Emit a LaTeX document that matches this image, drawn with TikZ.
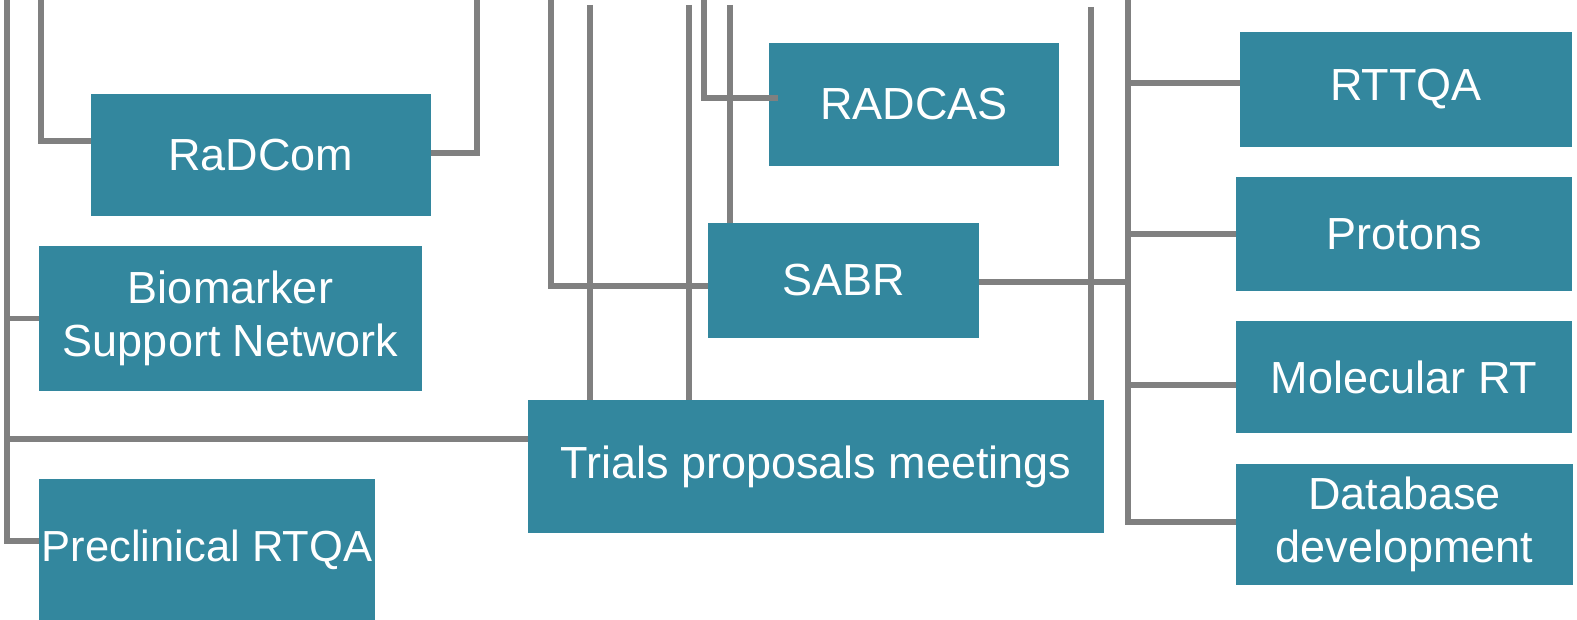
\documentclass[tikz,border=0pt]{standalone}
\usepackage{fontspec}
\setmainfont{Liberation Sans}
\definecolor{boxteal}{RGB}{51,135,158}
\definecolor{linegray}{RGB}{128,128,128}
\begin{document}
\begin{tikzpicture}[x=1pt,y=-1pt,
  box/.style={fill=boxteal, text=white, inner sep=0pt, align=center,
    font=\fontsize{45}{53}\selectfont},
  conn/.style={draw=linegray, line width=5.5pt}]
\useasboundingbox (0,0) rectangle (1577,620);
\fill[white] (0,0) rectangle (1577,620);

\path
  node[box, minimum width=340pt, minimum height=122pt] (radcom) at (261,155) {RaDCom}
  node[box, minimum width=383pt, minimum height=145pt] (bio) at (230.5,318.5) {Biomarker\\Support Network}
  node[box, minimum width=336pt, minimum height=141pt, font=\fontsize{43.5}{53}\selectfont] (preclin) at (207,549.5) {Preclinical RTQA}
  node[box, minimum width=576pt, minimum height=133pt] (trials) at (816,466.5) {Trials proposals meetings}
  node[box, minimum width=271pt, minimum height=115pt] (sabr) at (843.5,280.5) {SABR}
  node[box, minimum width=290pt, minimum height=123pt] (radcas) at (914,104.5) {RADCAS}
  node[box, minimum width=332pt, minimum height=115pt] (rttqa) at (1406,89.5) {RTTQA}
  node[box, minimum width=336pt, minimum height=114pt] (protons) at (1404,234) {Protons}
  node[box, minimum width=336pt, minimum height=112pt] (molec) at (1404,377) {Molecular RT}
  node[box, minimum width=337pt, minimum height=121pt] (db) at (1404.5,524.5) {Database\\development};

\coordinate (aTop) at (7,0);
\coordinate (bTop) at (41,0);
\coordinate (cTop) at (477,0);
\coordinate (dTop) at (551,0);
\coordinate (eTop) at (590,5);
\coordinate (fTop) at (689,5);
\coordinate (gTop) at (704,0);
\coordinate (hTop) at (730,5);
\coordinate (iTop) at (1091,7);
\coordinate (jTop) at (1128,0);
\coordinate (pw) at (preclin.west |- 0,541);
\coordinate (tw) at (trials.west |- 0,439);
\coordinate (rw) at (radcom.west |- 0,141);
\coordinate (re) at (radcom.east |- 0,153);
\coordinate (sw) at (sabr.west |- 0,286);
\coordinate (se) at (sabr.east |- 0,282);
\coordinate (rcw) at (radcas.west |- 0,98);
\coordinate (dbw) at (db.west |- 0,522);
\coordinate (rtw) at (rttqa.west |- 0,83);
\coordinate (mw) at (molec.west |- 0,385);

\draw[conn] (aTop) |- (pw);
\draw[conn] (aTop |- bio.west) -- (bio.west);
\draw[conn] (aTop |- tw) -- (tw);
\draw[conn] (bTop) |- (rw);
\draw[conn] (re) -| (cTop);
\draw[conn] (dTop) |- (sw);
\draw[conn] (eTop) -- (eTop |- trials.north);
\draw[conn] (fTop) -- (fTop |- trials.north);
\draw[conn] (gTop) |- ([xshift=9pt]rcw);
\draw[conn] (hTop) -- (hTop |- sabr.north);
\draw[conn] (iTop) -- (iTop |- trials.north);
\draw[conn] (se) -- (jTop |- se);
\draw[conn] (jTop) |- (dbw);
\draw[conn] (jTop |- rtw) -- (rtw);
\draw[conn] (jTop |- protons.west) -- (protons.west);
\draw[conn] (jTop |- mw) -- (mw);
\end{tikzpicture}
\end{document}
